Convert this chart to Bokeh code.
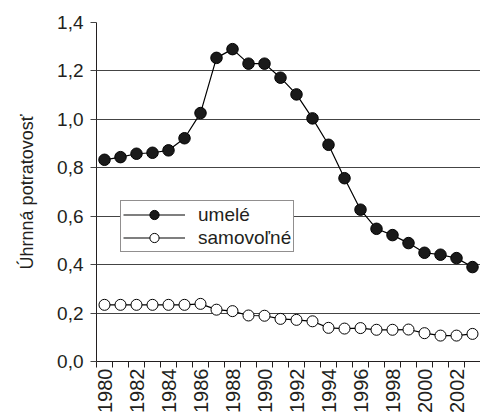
import math
from bokeh.plotting import figure
from bokeh.models import FixedTicker, CustomJSTickFormatter, Range1d, Legend, LegendItem
from bokeh.embed import file_html
from bokeh.resources import INLINE

years = list(range(1980, 2004))
umele = [0.833, 0.844, 0.858, 0.862, 0.872, 0.922, 1.026, 1.254, 1.290, 1.230,
         1.230, 1.172, 1.103, 1.004, 0.895, 0.757, 0.627, 0.548, 0.522, 0.489,
         0.449, 0.441, 0.427, 0.390]
samovolne = [0.234, 0.234, 0.234, 0.234, 0.234, 0.234, 0.238, 0.214, 0.208, 0.190,
             0.189, 0.176, 0.172, 0.166, 0.139, 0.136, 0.138, 0.131, 0.131, 0.132,
             0.117, 0.107, 0.107, 0.114]
y_ticks = [0.0, 0.2, 0.4, 0.6, 0.8, 1.0, 1.2, 1.4]
x_label_years = list(range(1980, 2003, 2))
series_names = ["umelé", "samovoľné"]
y_title = "Úhrnná potratovosť"

FONT = "Liberation Sans"
TXT = "#231f20"

p = figure(width=480, height=417, output_backend="svg", toolbar_location=None,
           x_range=Range1d(1979.5, 2003.5), y_range=Range1d(0, 1.4),
           min_border_left=96, min_border_right=0, min_border_top=22, min_border_bottom=56)
p.outline_line_color = None
p.background_fill_color = "white"
p.border_fill_color = "white"

p.xgrid.grid_line_color = None
p.ygrid.grid_line_color = "#444444"
p.ygrid.grid_line_width = 1
p.ygrid.ticker = FixedTicker(ticks=y_ticks)

l1 = p.line(years, umele, line_color="black", line_width=1.2)
s1 = p.scatter(years, umele, size=11.5, fill_color="#1a1a1a", line_color="black", line_width=1)
l2 = p.line(years, samovolne, line_color="black", line_width=1.2)
s2 = p.scatter(years, samovolne, size=11, fill_color="white", line_color="black", line_width=1)

# y axis
ya = p.yaxis[0]
ya.ticker = FixedTicker(ticks=y_ticks)
ya.formatter = CustomJSTickFormatter(code="return tick.toFixed(1).replace('.', ',');")
ya.major_tick_out = 6
ya.major_tick_in = 0
ya.minor_tick_out = 0
ya.minor_tick_in = 0
ya.axis_line_color = "#231f20"
ya.major_tick_line_color = "#444444"
ya.major_label_text_font = FONT
ya.major_label_text_font_size = "19px"
ya.major_label_text_color = TXT
ya.major_label_standoff = 7
ya.axis_label = y_title
ya.axis_label_text_font = FONT
ya.axis_label_text_font_size = "18px"
ya.axis_label_text_font_style = "normal"
ya.axis_label_text_color = TXT
ya.axis_label_standoff = 17

# x axis
xa = p.xaxis[0]
xa.ticker = FixedTicker(ticks=x_label_years, minor_ticks=[y - 0.5 for y in range(1980, 2005)])
xa.major_tick_out = 0
xa.major_tick_in = 0
xa.minor_tick_out = 6
xa.minor_tick_in = 0
xa.axis_line_color = "#231f20"
xa.minor_tick_line_color = "#231f20"
xa.major_label_orientation = math.pi / 2
xa.major_label_text_font = FONT
xa.major_label_text_font_size = "20px"
xa.major_label_text_color = TXT
xa.major_label_standoff = 1

legend = Legend(items=[LegendItem(label=series_names[0], renderers=[l1, s1]),
                       LegendItem(label=series_names[1], renderers=[l2, s2])],
                location=(24, 109))
legend.border_line_color = "#231f20"
legend.border_line_width = 1
legend.background_fill_color = "white"
legend.background_fill_alpha = 1
legend.padding = 2
legend.spacing = 0
legend.margin = 0
legend.glyph_width = 62
legend.glyph_height = 23
legend.label_height = 20
legend.label_standoff = 13
legend.label_text_font = FONT
legend.label_text_font_size = "19px"
legend.label_text_color = TXT
p.add_layout(legend)

open("out.html", "w").write(file_html(p, INLINE))
